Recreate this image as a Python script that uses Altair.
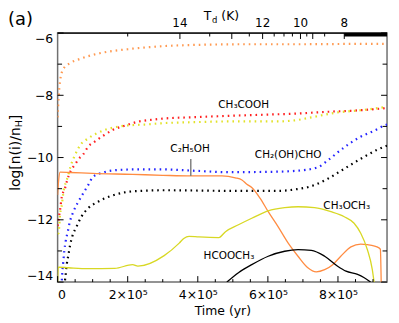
import altair as alt
import pandas as pd

# ---------------- data (time in units of 1e5 yr, values = log abundance) -------------
# orange dotted (grain C2H5OH)
gC2H5OH_t = [0, 0.028, 0.07, 0.16, 0.35, 0.64, 1.2, 2.0, 2.9, 4.0, 5.5, 7.0, 8.5, 9.4]
gC2H5OH_v = [-8.71, -8.08, -7.54, -7.16, -6.97, -6.83, -6.65, -6.52, -6.43, -6.38, -6.36, -6.36, -6.35, -6.35]
# red dotted (CH3COOH)
CH3COOH_t = [0, 0.04, 0.07, 0.12, 0.21, 0.26, 0.38, 0.50, 0.59, 0.73, 0.87, 1.06, 1.30, 1.58, 1.91,
             2.33, 2.66, 2.99, 4.0, 4.88, 6.0, 6.77, 7.71, 8.65, 9.4]
CH3COOH_v = [-12.2, -11.9, -11.68, -11.26, -10.99, -10.78, -10.41, -10.22, -10.06, -9.90, -9.65, -9.49,
             -9.30, -9.11, -8.98, -8.84, -8.79, -8.75, -8.70, -8.66, -8.62, -8.59, -8.53, -8.48, -8.41]
# yellow dotted (grain CH3OCH3)
gCH3OCH3_t = [0, 0.03, 0.05, 0.07, 0.12, 0.16, 0.29, 0.37, 0.48, 0.64, 0.85, 1.14, 1.44, 1.77, 2.10,
              2.48, 2.95, 4.0, 4.88, 6.29, 6.8, 7.24, 7.99, 8.65, 9.4]
gCH3OCH3_v = [-12.45, -12.42, -12.16, -11.84, -11.52, -11.16, -10.62, -10.28, -9.96, -9.61, -9.40, -9.21,
              -9.08, -9.00, -8.96, -8.94, -8.90, -8.86, -8.84, -8.84, -8.80, -8.71, -8.55, -8.48, -8.37]
# blue dotted (CH2(OH)CHO)
CH2OHCHO_t = [0.10, 0.12, 0.136, 0.164, 0.19, 0.23, 0.29, 0.35, 0.45, 0.59, 0.73, 0.87, 1.01, 1.30, 1.72,
              2.29, 2.95, 4.0, 4.88, 6.0, 6.77, 7.43, 7.71, 8.18, 8.65, 9.03, 9.31, 9.4]
CH2OHCHO_v = [-14.3, -13.95, -13.65, -13.33, -13.01, -12.69, -12.38, -12.06, -11.74, -11.42, -11.15, -10.89,
              -10.62, -10.48, -10.40, -10.38, -10.38, -10.43, -10.47, -10.46, -10.43, -10.31, -10.09, -9.67,
              -9.33, -9.14, -8.98, -8.94]
# black dotted (grain HCOOCH3)
gHCOOCH3_t = [0.18, 0.21, 0.23, 0.26, 0.31, 0.35, 0.42, 0.54, 0.68, 0.87, 1.15, 1.53, 1.91, 2.38, 3.04,
              4.0, 4.88, 6.29, 6.8, 7.24, 7.71, 8.18, 8.65, 9.12, 9.4]
gHCOOCH3_v = [-14.3, -13.95, -13.75, -13.44, -13.12, -12.85, -12.53, -12.22, -11.90, -11.63, -11.42, -11.23,
              -11.12, -11.07, -11.05, -11.06, -11.07, -11.07, -11.02, -10.92, -10.68, -10.36, -10.04, -9.75, -9.62]
# orange solid (C2H5OH)
C2H5OH_t = [0, 0.03, 0.07, 0.35, 1.0, 2.14, 3.0, 3.80, 4.69, 5.07, 5.26, 5.40, 5.54, 5.78, 6.01, 6.29, 6.58,
            6.86, 7.14, 7.38, 7.62, 7.85, 8.08, 8.37, 8.65, 8.84, 9.17, 9.21, 9.24]
C2H5OH_v = [-11.2, -10.73, -10.47, -10.48, -10.51, -10.54, -10.57, -10.59, -10.59, -10.65, -10.72, -10.86,
            -10.96, -11.31, -11.74, -12.22, -12.75, -13.17, -13.54, -13.67, -13.60, -13.44, -13.17, -12.87,
            -12.78, -12.80, -12.90, -12.95, -14.5]
# yellow solid (CH3OCH3)
CH3OCH3_t = [0, 0.02, 0.31, 0.87, 1.63, 2.14, 2.29, 3.04, 3.47, 3.60, 3.75, 4.03, 4.60, 4.79, 5.16, 5.54,
             6.01, 6.48, 6.86, 7.33, 7.80, 8.18, 8.46, 8.65, 8.84, 8.98, 9.03]
CH3OCH3_v = [-14.0, -13.52, -13.54, -13.57, -13.56, -13.44, -13.49, -13.15, -12.75, -12.60, -12.53, -12.55,
             -12.57, -12.38, -12.16, -11.95, -11.71, -11.61, -11.58, -11.61, -11.74, -11.90, -12.11, -12.43,
             -12.96, -13.60, -14.0]
# black solid (HCOOCH3)
HCOOCH3_t = [4.83, 5.16, 5.54, 6.01, 6.48, 6.86, 7.24, 7.62, 7.99, 8.23, 8.56, 8.75, 8.93]
HCOOCH3_v = [-14.0, -13.70, -13.44, -13.17, -13.01, -12.96, -12.98, -13.17, -13.49, -13.65, -13.75, -13.86, -14.0]

series_names = ["gC2H5OH", "CH3COOH", "gCH3OCH3", "CH2OHCHO", "gHCOOCH3", "C2H5OH", "CH3OCH3", "HCOOCH3"]
series_colors = ["#ff9a52", "#ff2020", "#e2e22a", "#2424ff", "#000000", "#ff8c42", "#d8d824", "#000000"]
dotted_series = ["gC2H5OH", "CH3COOH", "gCH3OCH3", "CH2OHCHO", "gHCOOCH3"]
solid_series = ["C2H5OH", "CH3OCH3", "HCOOCH3"]

# species labels
label_text = ["CH₃COOH", "C₂H₅OH", "CH₂(OH)CHO", "CH₃OCH₃", "HCOOCH₃"]
label_t = [5.31, 3.78, 6.58, 8.25, 4.89]
label_v = [-8.31, -9.74, -9.91, -11.55, -13.15]
leader_t = [3.80]
leader_v1 = [-10.05]
leader_v2 = [-10.59]

# axes
x_major = [0, 2, 4, 6, 8]
x_minor = [0.5, 1, 1.5, 2.5, 3, 3.5, 4.5, 5, 5.5, 6.5, 7, 7.5, 8.5, 9]
y_major = [-14, -12, -10, -8, -6]
y_minor = [-13, -11, -9, -7]
# top dust temperature axis (positions in time)
top_major = [3.49, 4.97, 5.85, 6.93, 7.28, 8.18]
top_minor = [2.00, 4.34, 5.47, 6.18, 6.46, 6.70, 7.11, 7.62]
top_label_t = [3.49, 5.85, 6.93, 8.18]
top_label = ["14", "12", "10", "8"]
bar_start = [8.18]
bar_end = [9.4]
X_MAX = 9.4

# ---------------- build tables -------------
all_t = [gC2H5OH_t, CH3COOH_t, gCH3OCH3_t, CH2OHCHO_t, gHCOOCH3_t, C2H5OH_t, CH3OCH3_t, HCOOCH3_t]
all_v = [gC2H5OH_v, CH3COOH_v, gCH3OCH3_v, CH2OHCHO_v, gHCOOCH3_v, C2H5OH_v, CH3OCH3_v, HCOOCH3_v]
rows = []
for name, ts, vs in zip(series_names, all_t, all_v):
    for i, (t, v) in enumerate(zip(ts, vs)):
        rows.append({"series": name, "t": t * 1e5, "v": v, "i": i})
df = pd.DataFrame(rows)

W, H = 332, 251
FONT = "DejaVu Sans"

xscale = alt.Scale(domain=[0, X_MAX * 1e5], nice=False, zero=False)
yscale = alt.Scale(domain=[-14, -6], nice=False, zero=False)
cscale = alt.Scale(domain=series_names, range=series_colors)

x_enc = alt.X("t:Q", scale=xscale, axis=alt.Axis(
    values=[v * 1e5 for v in x_major], ticks=False, domain=False, grid=False,
    labelExpr="datum.value == 0 ? '0' : format(datum.value/1e5, 'd') + '×10⁵'",
    labelFont=FONT, labelFontSize=12.5, labelColor="black", labelPadding=7,
    title="Time (yr)", titleFont=FONT, titleFontSize=12.5, titleFontWeight="normal",
    titleColor="black", titlePadding=3))
y_enc = alt.Y("v:Q", scale=yscale, axis=alt.Axis(
    values=y_major, ticks=False, domain=False, grid=False, labelFlush=True,
    labelFont=FONT, labelFontSize=12.5, labelColor="black", labelPadding=5, title=None))

dotted = alt.Chart(df).transform_filter(
    alt.FieldOneOfPredicate(field="series", oneOf=dotted_series)
).mark_line(strokeDash=[1.6, 4], strokeWidth=2.2, clip=True, interpolate="monotone").encode(
    x=x_enc, y=y_enc, color=alt.Color("series:N", scale=cscale, legend=None),
    detail="series:N", order="i:Q")

solid = alt.Chart(df).transform_filter(
    alt.FieldOneOfPredicate(field="series", oneOf=solid_series)
).mark_line(strokeWidth=1.3, clip=True, interpolate="monotone").encode(
    x="t:Q", y="v:Q", color=alt.Color("series:N", scale=cscale, legend=None),
    detail="series:N", order="i:Q")

lab_df = pd.DataFrame({"t": [t * 1e5 for t in label_t], "v": label_v, "txt": label_text})
labels = alt.Chart(lab_df).mark_text(font=FONT, fontSize=10.5, color="black",
                                     align="center", baseline="middle").encode(
    x="t:Q", y="v:Q", text="txt:N")

lead_df = pd.DataFrame({"t": [t * 1e5 for t in leader_t], "v": leader_v1, "v2": leader_v2})
leader = alt.Chart(lead_df).mark_rule(color="#808080", strokeWidth=1.5).encode(
    x="t:Q", y="v:Q", y2="v2:Q")

# ticks (inward)
def xticks(vals, y0, y1):
    d = pd.DataFrame({"t": [v * 1e5 for v in vals]})
    return alt.Chart(d).mark_rule(color="black", strokeWidth=1).encode(
        x="t:Q", y=alt.value(y0), y2=alt.value(y1))

def yticks(vals, x0, x1):
    d = pd.DataFrame({"v": vals})
    return alt.Chart(d).mark_rule(color="black", strokeWidth=1).encode(
        y="v:Q", x=alt.value(x0), x2=alt.value(x1))

tick_layers = [
    xticks(x_major, H, H - 6), xticks(x_minor, H, H - 3),
    yticks(y_major, 0, 6), yticks(y_minor, 0, 4.5),
    yticks(y_major, W, W - 6), yticks(y_minor, W, W - 4.5),
    xticks(top_major, 0, 6), xticks(top_minor, 0, 3.5),
]

one = pd.DataFrame({"a": [0]})
top_line = alt.Chart(one).mark_rule(color="black", strokeWidth=1.3).encode(
    x=alt.value(0), x2=alt.value(W), y=alt.value(0))
bar_df = pd.DataFrame({"t": [b * 1e5 for b in bar_start], "t2": [b * 1e5 for b in bar_end]})
bar = alt.Chart(bar_df).mark_rule(color="black", strokeWidth=3.6).encode(
    x="t:Q", x2="t2:Q", y=alt.value(1.8))

toplab_df = pd.DataFrame({"t": [t * 1e5 for t in top_label_t], "txt": top_label})
toplabels = alt.Chart(toplab_df).mark_text(font=FONT, fontSize=12, color="black",
                                            align="center", baseline="middle").encode(
    x="t:Q", y=alt.value(-10), text="txt:N")

def txt(s, x, y, size, align="left", angle=0, baseline="middle"):
    kw = dict(font=FONT, fontSize=size, color="black", align=align, baseline=baseline)
    if angle:
        kw["angle"] = angle
    return alt.Chart(one).mark_text(text=s, **kw).encode(x=alt.value(x), y=alt.value(y))

texts = [
    txt("T", 155, -17, 12.5, align="right"),
    txt("d", 155.5, -13.5, 8.5),
    txt("(K)", 165, -17, 12.5),
    txt("(a)", -50, -13, 18),
    # y title: log[n(i)/n_H]
    txt("log[n(i)/n", -42, 95, 14, align="right", angle=270),
    txt("H", -38.5, 95, 9.5, align="left", angle=270),
    txt("]", -42, 88, 14, align="left", angle=270),
]

chart = alt.layer(dotted, solid, leader, labels, *tick_layers, top_line, bar, toplabels, *texts).properties(
    width=W, height=H, autosize=alt.AutoSizeParams(type="none"),
    padding={"left": 50, "top": 24, "right": 4, "bottom": 36},
).configure_view(stroke="#707070", strokeWidth=1.5)

chart.save("out.html", embed_options={"renderer": "svg", "actions": False})
